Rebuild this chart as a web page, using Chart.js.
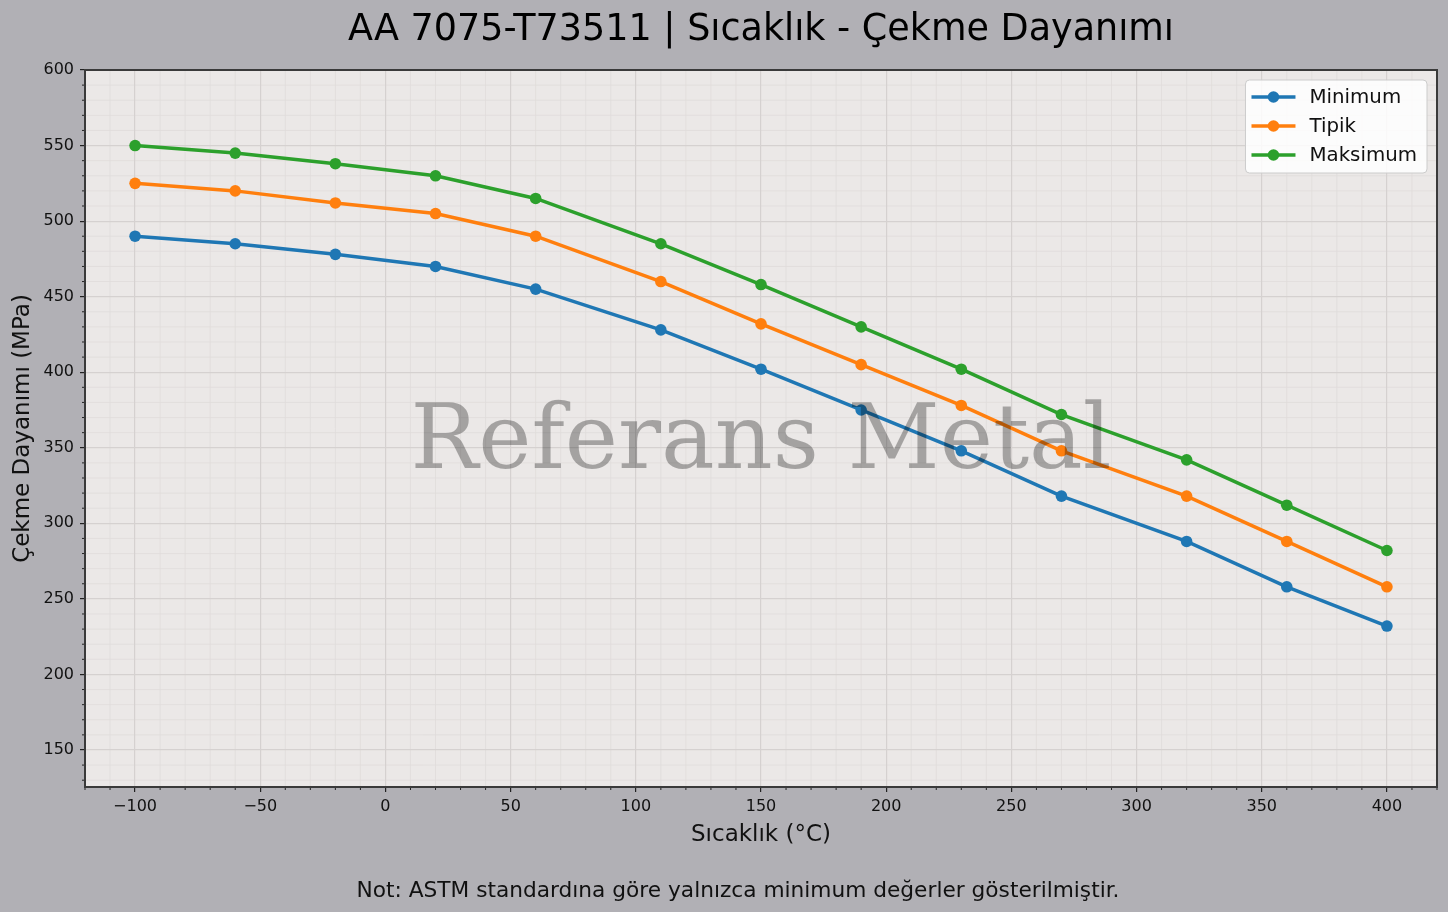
<!DOCTYPE html>
<html lang="tr">
<head>
  <meta charset="UTF-8" />
  <title>AA 7075-T73511 | Sıcaklık - Çekme Dayanımı</title>
  <script src="https://cdn.jsdelivr.net/npm/chart.js"></script>
  <style>
    html, body {
      margin: 0;
      padding: 0;
      background: #b1b0b5;
    }
    .chart-container {
      width: 1448px;
      height: 912px;
    }
  </style>
</head>
<body>
  <div class="chart-container">
    <canvas id="strengthChart"></canvas>
  </div>

  <script>
    // Sıcaklık noktaları (°C) ve çekme dayanımı değerleri (MPa)
    const temperatures = [-100, -60, -20, 20, 60, 110, 150, 190, 230, 270, 320, 360, 400];
    const minimumValues = [490, 485, 478, 470, 455, 428, 402, 375, 348, 318, 288, 258, 232];
    const tipikValues = [525, 520, 512, 505, 490, 460, 432, 405, 378, 348, 318, 288, 258];
    const maksimumValues = [550, 545, 538, 530, 515, 485, 458, 430, 402, 372, 342, 312, 282];

    const seriesLabels = ['Minimum', 'Tipik', 'Maksimum'];
    const seriesColors = ['#1f77b4', '#ff7f0e', '#2ca02c'];

    const xTickValues = [-100, -50, 0, 50, 100, 150, 200, 250, 300, 350, 400];
    const yTickValues = [150, 200, 250, 300, 350, 400, 450, 500, 550, 600];

    const chartTitle = 'AA 7075-T73511 | Sıcaklık - Çekme Dayanımı';
    const footNote = 'Not: ASTM standardına göre yalnızca minimum değerler gösterilmiştir.';

    const FONT = 'DejaVu Sans';
    Chart.defaults.font.family = FONT;
    Chart.defaults.color = '#111';

    const toPoints = vals => temperatures.map((t, i) => ({ x: t, y: vals[i] }));
    const minus = v => (v < 0 ? '\u2212' + Math.abs(v) : String(v));

    // arka plan + ikincil ızgara
    const backgroundPlugin = {
      id: 'plotBackground',
      beforeDraw(chart) {
        const { ctx, chartArea: a, scales: { x, y } } = chart;
        ctx.save();
        ctx.fillStyle = '#b1b0b5';
        ctx.fillRect(0, 0, chart.width, chart.height);
        ctx.fillStyle = '#ebe8e7';
        ctx.fillRect(a.left, a.top, a.right - a.left, a.bottom - a.top);

        ctx.strokeStyle = '#e0dcdb';
        ctx.lineWidth = 0.8;
        ctx.beginPath();
        for (let v = Math.ceil(x.min / 10) * 10; v <= x.max; v += 10) {
          if (v % 50 === 0) continue;
          const px = x.getPixelForValue(v);
          ctx.moveTo(px, a.top);
          ctx.lineTo(px, a.bottom);
        }
        for (let v = Math.ceil(y.min / 10) * 10; v <= y.max; v += 10) {
          if (v % 50 === 0) continue;
          const py = y.getPixelForValue(v);
          ctx.moveTo(a.left, py);
          ctx.lineTo(a.right, py);
        }
        ctx.stroke();
        ctx.restore();
      },
      afterDatasetsDraw(chart) {
        const { ctx, chartArea: a, scales: { x, y } } = chart;
        ctx.save();
        // küçük tik işaretleri
        ctx.strokeStyle = '#222';
        ctx.lineWidth = 1;
        ctx.beginPath();
        for (let v = Math.ceil(x.min / 10) * 10; v <= x.max; v += 10) {
          if (v % 50 === 0) continue;
          const px = x.getPixelForValue(v);
          ctx.moveTo(px, a.bottom);
          ctx.lineTo(px, a.bottom + 3);
        }
        for (let v = Math.ceil(y.min / 10) * 10; v <= y.max; v += 10) {
          if (v % 50 === 0) continue;
          const py = y.getPixelForValue(v);
          ctx.moveTo(a.left, py);
          ctx.lineTo(a.left - 3, py);
        }
        ctx.stroke();
        // çerçeve
        ctx.strokeStyle = '#3a3a3a';
        ctx.lineWidth = 2;
        ctx.strokeRect(a.left, a.top, a.right - a.left, a.bottom - a.top);
        ctx.restore();
      }
    };

    // başlık, not, filigran ve lejant
    const overlayPlugin = {
      id: 'overlay',
      afterDraw(chart) {
        const { ctx, chartArea: a } = chart;
        ctx.save();
        ctx.textAlign = 'center';
        ctx.textBaseline = 'alphabetic';

        ctx.fillStyle = '#000';
        ctx.font = '36.5px "' + FONT + '"';
        ctx.fillText(chartTitle, (a.left + a.right) / 2, 39.5);

        ctx.fillStyle = '#111';
        ctx.font = '21.7px "' + FONT + '"';
        ctx.fillText(footNote, 738, 897);

        ctx.font = '90px "DejaVu Serif"';
        ctx.fillStyle = 'rgba(0, 0, 0, 0.3)';
        ctx.fillText('Referans Metal', (a.left + a.right) / 2, (a.top + a.bottom) / 2 + 39);

        // lejant kutusu
        ctx.font = '19.8px "' + FONT + '"';
        const textW = Math.max(...seriesLabels.map(s => ctx.measureText(s).width));
        const boxW = 64 + textW + 10;
        const boxH = 93;
        const bx = a.right - 10 - boxW;
        const by = a.top + 10;
        ctx.fillStyle = 'rgba(255, 255, 255, 0.85)';
        ctx.strokeStyle = '#cccccc';
        ctx.lineWidth = 1;
        ctx.beginPath();
        ctx.roundRect(bx, by, boxW, boxH, 4);
        ctx.fill();
        ctx.stroke();

        ctx.textAlign = 'left';
        ctx.textBaseline = 'middle';
        seriesLabels.forEach((label, i) => {
          const ry = by + 17 + i * 29;
          ctx.strokeStyle = seriesColors[i];
          ctx.lineWidth = 3.5;
          ctx.beginPath();
          ctx.moveTo(bx + 6, ry);
          ctx.lineTo(bx + 50, ry);
          ctx.stroke();
          ctx.fillStyle = seriesColors[i];
          ctx.beginPath();
          ctx.arc(bx + 28, ry, 5.8, 0, Math.PI * 2);
          ctx.fill();
          ctx.fillStyle = '#111';
          ctx.fillText(label, bx + 64, ry + 1);
        });
        ctx.restore();
      }
    };

    const seriesData = [minimumValues, tipikValues, maksimumValues];

    new Chart(document.getElementById('strengthChart').getContext('2d'), {
      type: 'line',
      data: {
        datasets: seriesData.map((vals, i) => ({
          label: seriesLabels[i],
          data: toPoints(vals),
          borderColor: seriesColors[i],
          backgroundColor: seriesColors[i],
          pointBackgroundColor: seriesColors[i],
          borderWidth: 3.5,
          pointRadius: 5.8,
          pointBorderWidth: 0,
          tension: 0,
          fill: false
        }))
      },
      options: {
        responsive: true,
        maintainAspectRatio: false,
        animation: false,
        layout: { padding: { left: 0, right: 11, top: 70, bottom: 62 } },
        scales: {
          x: {
            type: 'linear',
            min: -120,
            max: 420,
            afterBuildTicks: axis => { axis.ticks = xTickValues.map(v => ({ value: v })); },
            afterFit: axis => { axis.height = 63; },
            ticks: {
              callback: v => minus(v),
              font: { size: 16 },
              color: '#111',
              padding: 5,
              maxRotation: 0
            },
            grid: {
              color: '#d5d1d0',
              lineWidth: 1.2,
              tickColor: '#222',
              tickLength: 5,
              tickWidth: 1.2
            },
            border: { display: false },
            title: {
              display: true,
              text: 'Sıcaklık (°C)',
              font: { size: 23 },
              color: '#111',
              padding: { top: 0, bottom: 1 }
            }
          },
          y: {
            type: 'linear',
            min: 125.5,
            max: 600,
            afterBuildTicks: axis => { axis.ticks = yTickValues.map(v => ({ value: v })); },
            afterFit: axis => { axis.width = 85; },
            ticks: {
              font: { size: 16 },
              color: '#111',
              padding: 6
            },
            grid: {
              color: '#d5d1d0',
              lineWidth: 1.2,
              tickColor: '#222',
              tickLength: 5,
              tickWidth: 1.2
            },
            border: { display: false },
            title: {
              display: true,
              text: 'Çekme Dayanımı (MPa)',
              font: { size: 23 },
              color: '#111',
              padding: { top: 9, bottom: 0 }
            }
          }
        },
        plugins: {
          legend: { display: false },
          tooltip: { enabled: false },
          title: { display: false },
          subtitle: { display: false }
        }
      },
      plugins: [backgroundPlugin, overlayPlugin]
    });
  </script>
</body>
</html>
